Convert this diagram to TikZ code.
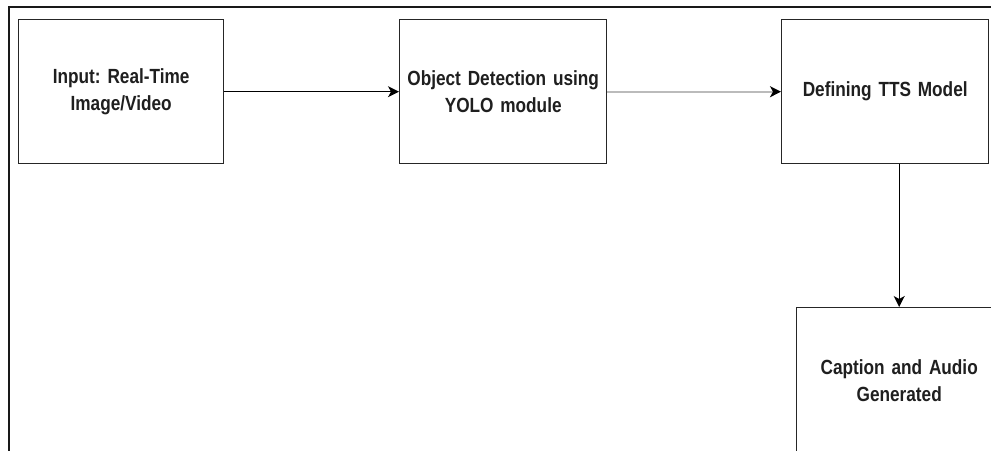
\documentclass[tikz,border=0pt]{standalone}
\usepackage{fontspec}
\setmainfont[FakeStretch=0.84]{Liberation Sans}
\usetikzlibrary{arrows.meta}
\frenchspacing
\definecolor{boxline}{HTML}{262626}
\definecolor{paleline}{HTML}{BBBBBB}
\tikzset{
  stage/.style={draw=boxline, line width=1.4pt, rectangle, anchor=north west,
    minimum width=205pt, minimum height=144pt, inner sep=0pt,
    align=center, text width=198pt,
    font=\fontsize{20.5pt}{27pt}\selectfont\bfseries, text=black!88},
  flow/.style={draw=black, line width=1.3pt, -{Stealth[length=11pt,width=11pt,inset=3pt]}},
  paleflow/.style={draw=paleline, line width=2.2pt, -{Stealth[length=11pt,width=11pt,inset=3pt,fill=black,color=black]}}
}
\begin{document}
\begin{tikzpicture}[x=1pt,y=-1pt]
  \useasboundingbox (0,0) rectangle (991,450);
  \clip (0,0) rectangle (991,450);
  \fill[white] (0,0) rectangle (991,450);
  % outer frame, running off the right and bottom edges
  \draw[line width=2pt, black!90] (8.5,460) -- (8.5,7) -- (1000,7);
  % processing stages
  \node[stage] (input) at (18,19) {Input: Real-Time\\Image/Video};
  \node[stage, minimum width=207pt] (yolo) at (399,19) {Object Detection using\\YOLO module};
  \node[stage, minimum width=207pt] (tts) at (781,19) {Defining TTS Model};
  \node[stage, minimum width=205pt, minimum height=146pt] (out) at (796,307) {Caption and Audio\\Generated};
  % connectors
  \draw[flow] (input.east) -- (yolo.west);
  \draw[paleflow] (yolo.east) -- (tts.west);
  \draw[flow] (tts.south -| out.north) -- (out.north);
\end{tikzpicture}
\end{document}
